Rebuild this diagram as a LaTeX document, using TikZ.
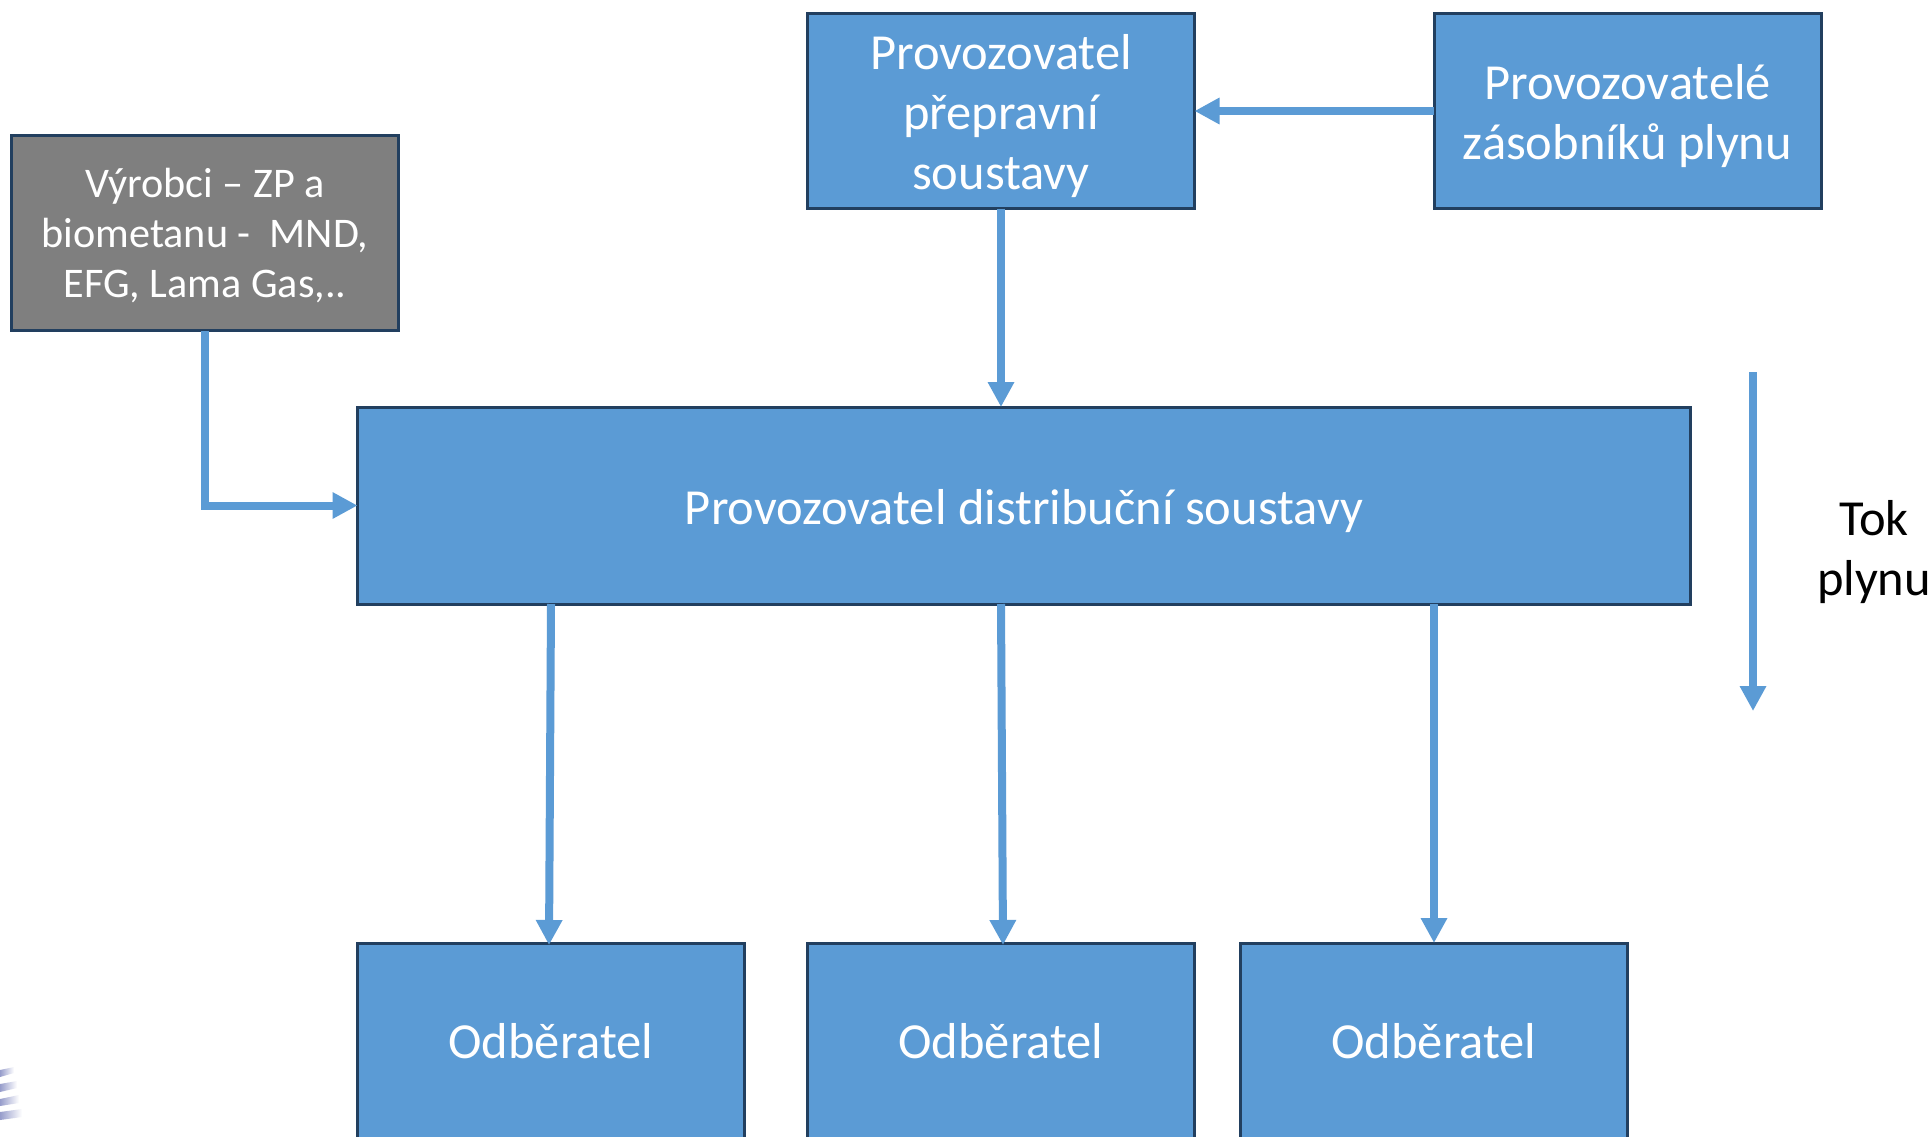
\documentclass[tikz,border=0pt]{standalone}
\usepackage{fontspec}
\setmainfont{Carlito}
\usetikzlibrary{arrows.meta}
\definecolor{boxblue}{HTML}{5B9BD5}
\definecolor{boxedge}{HTML}{223F5F}
\definecolor{boxgrey}{HTML}{7F7F7F}
\definecolor{stripe}{HTML}{979DCB}
\newcommand{\topgap}[1]{\rule{0pt}{#1pt}}
\tikzset{
  box/.style={draw=boxedge,line width=3pt,fill=boxblue,text=white,inner sep=0pt,outer sep=0pt,align=center,
    font=\fontsize{50.5}{60}\selectfont},
  greybox/.style={box,fill=boxgrey,font=\fontsize{42.2}{50}\selectfont},
  flow/.style={draw=boxblue,line width=8pt,-{Triangle[length=25pt,width=25pt]}},
  fade/.style={left color=stripe,right color=white,draw=none}
}
\begin{document}
\begin{tikzpicture}[x=1pt,y=-1pt]
\clip (0,0) rectangle (1932,1136);
\fill[white] (0,0) rectangle (1932,1136);
% faint stripes at the lower-left edge
\shade[fade] (0,1070) -- (14,1067) -- (14,1073) -- (0,1077) -- cycle;
\shade[fade] (0,1084) -- (17,1081) -- (17,1088) -- (0,1092) -- cycle;
\shade[fade] (0,1099) -- (19,1095) -- (19,1103) -- (0,1106) -- cycle;
\shade[fade] (0,1112) -- (22,1109) -- (22,1117) -- (0,1120) -- cycle;

\node[box,minimum width=387pt,minimum height=195pt] (prep) at (1001,111) {\topgap{46}Provozovatel\\přepravní\\soustavy};
\node[box,minimum width=387pt,minimum height=195pt] (zas) at (1627.5,111) {\topgap{46}Provozovatelé\\zásobníků plynu};
\node[greybox,minimum width=387pt,minimum height=195pt] (vyr) at (205,233) {\topgap{35}Výrobci – ZP a\\biometanu -~~MND,\\EFG, Lama Gas,..};
\node[box,minimum width=1333pt,minimum height=197pt] (dist) at (1024,505.5) {\topgap{46}Provozovatel distribuční soustavy};
\node[box,minimum width=387pt,minimum height=198pt] (o1) at (551,1042) {Odběratel\rule[-2pt]{0pt}{2pt}};
\node[box,minimum width=387pt,minimum height=198pt] (o2) at (1001,1042) {Odběratel\rule[-2pt]{0pt}{2pt}};
\node[box,minimum width=387pt,minimum height=198pt] (o3) at (1434,1042) {Odběratel\rule[-2pt]{0pt}{2pt}};
\node[align=center,text=black,inner sep=0pt,font=\fontsize{50.5}{60.5}\selectfont] (tok) at (1874,552) {Tok\\plynu};

\coordinate (d1) at (551,604);
\coordinate (d2) at (1001,604);
\coordinate (d3) at (1434,604);
\coordinate (e1) at (549,945);
\coordinate (e2) at (1003,945);
\coordinate (e3) at (1434,943);
\coordinate (f1) at (1753,372);
\coordinate (f2) at (1753,711);

\draw[flow] (zas.west) -- (prep.east);
\draw[flow] (prep.south) -- (dist.north -| prep.south);
\draw[flow] (vyr.south) |- (dist.west);
\draw[flow] (d1) -- (e1);
\draw[flow] (d2) -- (e2);
\draw[flow] (d3) -- (e3);
\draw[flow] (f1) -- (f2);
\end{tikzpicture}
\end{document}
